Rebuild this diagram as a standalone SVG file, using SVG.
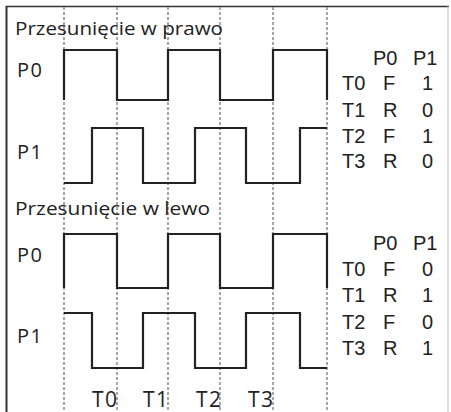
<svg xmlns="http://www.w3.org/2000/svg" width="451" height="412" viewBox="0 0 451 412">
<style>
.lbl{font-family:"Open Sans","DejaVu Sans",sans-serif;fill:#222;}
.plbl{font-family:"Open Sans","DejaVu Sans",sans-serif;fill:#222;font-size:20px;letter-spacing:1.5px;}
.tbl{font-family:"Liberation Sans",Arial,sans-serif;font-size:20px;fill:#222;}
.wave{fill:none;stroke:#222;stroke-width:2.2;stroke-linejoin:miter;}
.grid{stroke:#8a8a8a;stroke-width:1.5;stroke-dasharray:3 2;fill:none;}
</style>
<rect x="0" y="0" width="451" height="412" fill="#fff"/>
<g id="frame">
<line x1="6" y1="6.5" x2="449" y2="6.5" stroke="#333" stroke-width="1.5"/>
<line x1="6.5" y1="6" x2="6.5" y2="412" stroke="#333" stroke-width="2"/>
<line x1="448" y1="6" x2="448" y2="412" stroke="#bbb" stroke-width="1"/>
</g>
<g id="connectors">
<line class="grid" x1="64" y1="7" x2="64" y2="412"/>
<line class="grid" x1="117" y1="7" x2="117" y2="412"/>
<line class="grid" x1="168" y1="7" x2="168" y2="412"/>
<line class="grid" x1="220" y1="7" x2="220" y2="412"/>
<line class="grid" x1="273" y1="7" x2="273" y2="412"/>
<line class="grid" x1="327" y1="7" x2="327" y2="412"/>
</g>
<g id="right-shift">
<text class="lbl" x="15" y="35" font-size="18" textLength="208" lengthAdjust="spacingAndGlyphs">Przesunięcie w prawo</text>
<text class="plbl" x="17" y="77">P0</text>
<text class="plbl" x="17" y="159">P1</text>
<path class="wave" d="M64,100 V50 H117 V100 H168 V50 H220 V100 H273 V50 H327 V100"/>
<path class="wave" d="M64,183 H92 V128 H143 V183 H195 V128 H246 V183 H300 V128 H327"/>
</g>
<g id="right-table" class="tbl">
<text x="373" y="65">P0</text><text x="413" y="65">P1</text>
<text x="342" y="90">T0</text><text x="383" y="90">F</text><text x="422" y="90">1</text>
<text x="342" y="117">T1</text><text x="383" y="117">R</text><text x="422" y="117">0</text>
<text x="342" y="143">T2</text><text x="383" y="143">F</text><text x="422" y="143">1</text>
<text x="342" y="168">T3</text><text x="383" y="168">R</text><text x="422" y="168">0</text>
</g>
<g id="left-shift">
<text class="lbl" x="15" y="215" font-size="18" textLength="195" lengthAdjust="spacingAndGlyphs">Przesunięcie w lewo</text>
<text class="plbl" x="17" y="262">P0</text>
<text class="plbl" x="17" y="343">P1</text>
<path class="wave" d="M64,288 V234 H117 V288 H168 V234 H220 V288 H273 V234 H327 V288"/>
<path class="wave" d="M64,313 H92 V368 H143 V313 H195 V368 H246 V313 H300 V368 H327"/>
</g>
<g id="left-table" class="tbl">
<text x="373" y="250">P0</text><text x="413" y="250">P1</text>
<text x="342" y="276">T0</text><text x="383" y="276">F</text><text x="422" y="276">0</text>
<text x="342" y="302">T1</text><text x="383" y="302">R</text><text x="422" y="302">1</text>
<text x="342" y="329">T2</text><text x="383" y="329">F</text><text x="422" y="329">0</text>
<text x="342" y="355">T3</text><text x="383" y="355">R</text><text x="422" y="355">1</text>
</g>
<g id="time-labels" class="lbl" font-size="21" letter-spacing="1.5">
<text x="92" y="407">T0</text>
<text x="143" y="407">T1</text>
<text x="196" y="407">T2</text>
<text x="248" y="407">T3</text>
</g>
</svg>
